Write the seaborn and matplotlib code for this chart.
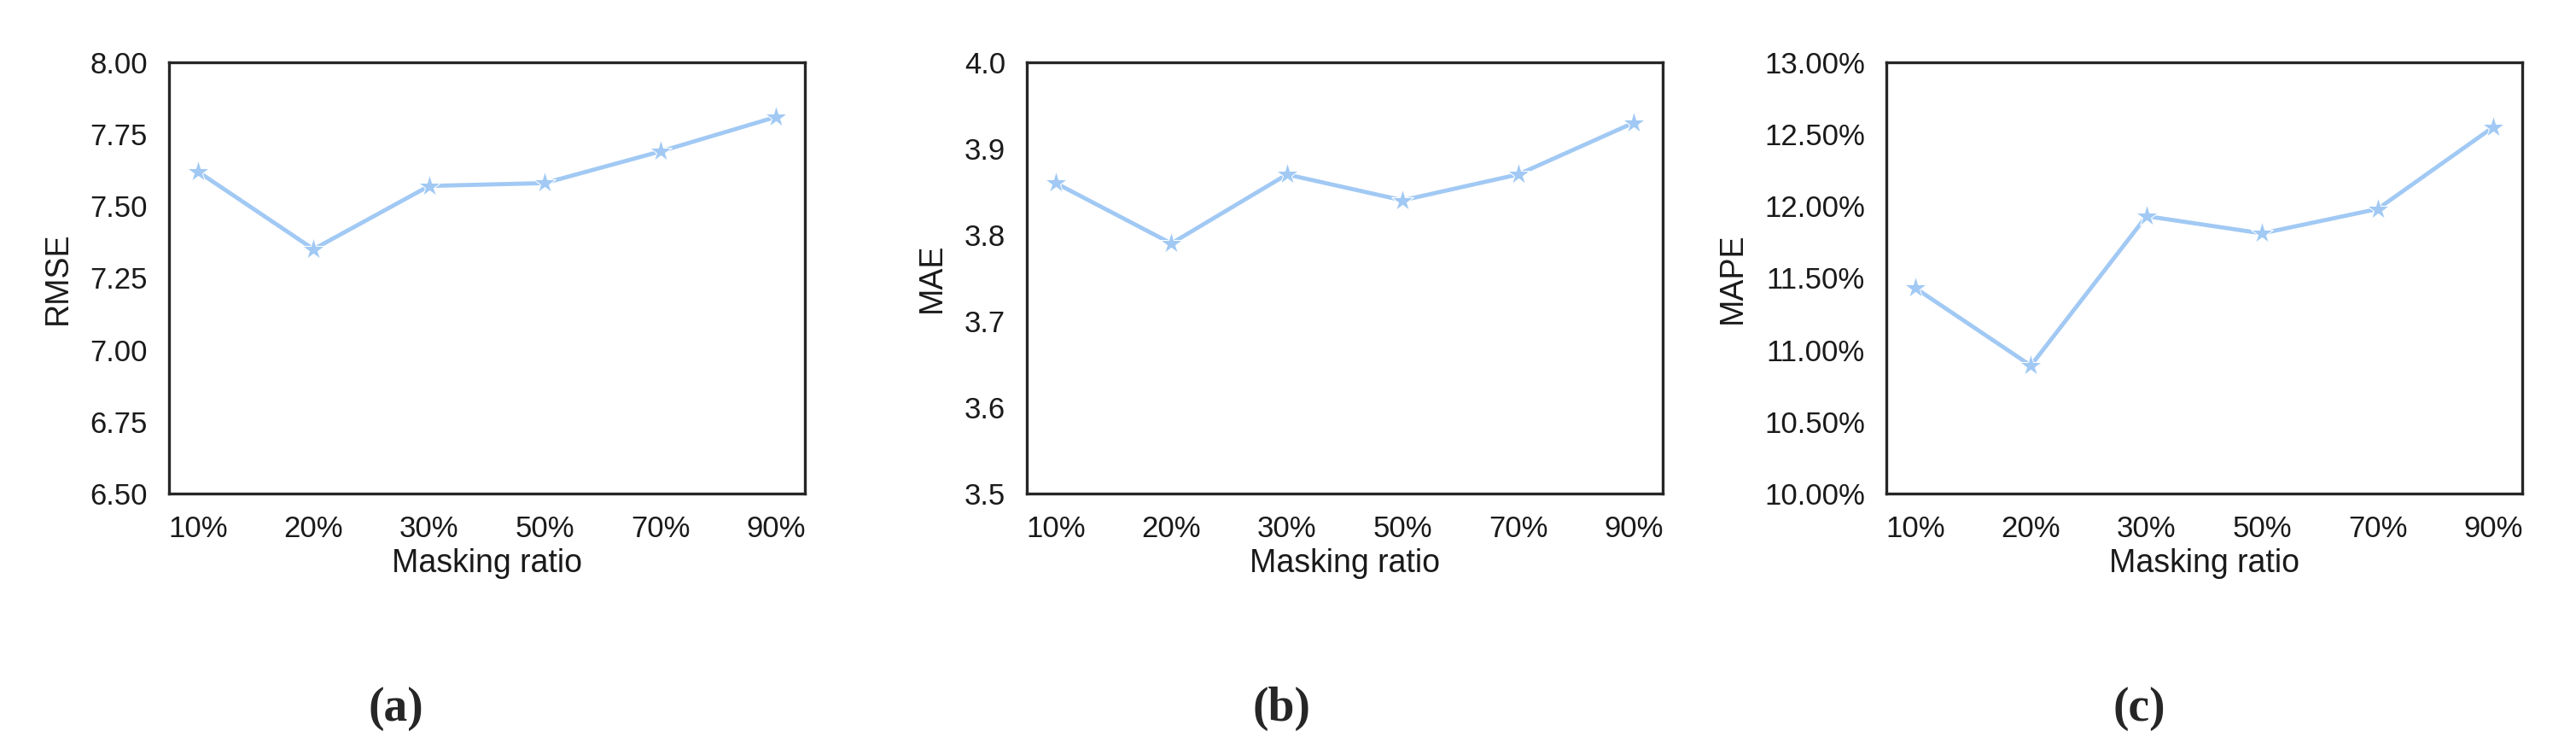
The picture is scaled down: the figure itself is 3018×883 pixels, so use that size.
import matplotlib
matplotlib.use("Agg")
import matplotlib.pyplot as plt
import seaborn as sns
import pandas as pd
from matplotlib.ticker import FuncFormatter

ratios = ["10%", "20%", "30%", "50%", "70%", "90%"]
rmse = [7.62, 7.35, 7.57, 7.58, 7.69, 7.81]
mae = [3.86, 3.79, 3.87, 3.84, 3.87, 3.93]
mape = [11.43, 10.89, 11.93, 11.81, 11.98, 12.55]

sns.set_theme(style="white")
plt.rcParams["font.family"] = ["Liberation Sans", "DejaVu Sans"]

fig = plt.figure(figsize=(30.18, 8.83), dpi=100)
W, H = 3018, 883
lefts = [198, 1203, 2210]
width = 745
bottom, top = 578, 73
color = sns.color_palette("pastel")[0]

panels = [
    ("RMSE", rmse, (6.5, 8.0), [6.5, 6.75, 7.0, 7.25, 7.5, 7.75, 8.0], "{:.2f}", "(a)", 464),
    ("MAE", mae, (3.5, 4.0), [3.5, 3.6, 3.7, 3.8, 3.9, 4.0], "{:.1f}", "(b)", 1501),
    ("MAPE", mape, (10.0, 13.0), [10, 10.5, 11, 11.5, 12, 12.5, 13], "{:.2f}%", "(c)", 2506),
]

for left, (name, vals, ylim, ticks, fmt, tag, tx) in zip(lefts, panels):
    ax = fig.add_axes([left / W, 1 - bottom / H, width / W, (bottom - top) / H])
    df = pd.DataFrame({"Masking ratio": ratios, name: vals})
    sns.lineplot(data=df, x="Masking ratio", y=name, ax=ax, color=color,
                 marker="*", markersize=20, linewidth=3.5, sort=False)
    ax.set_ylim(*ylim)
    ax.set_yticks(ticks)
    ax.yaxis.set_major_formatter(FuncFormatter(lambda v, p, f=fmt: f.format(v)))
    ax.set_xlim(-0.25, 5.25)
    ax.tick_params(labelsize=25, pad=12, labelcolor="#1a1a1a")
    ax.set_xlabel("Masking ratio", fontsize=27, color="#1a1a1a")
    ax.set_ylabel(name, fontsize=27, labelpad=14, color="#1a1a1a")
    for s in ax.spines.values():
        s.set_color("#262626")
        s.set_linewidth(2.4)
    fig.text(tx / W, 1 - 830 / H, tag, ha="center", va="center",
             fontsize=40, family="Liberation Serif", fontweight="bold")

fig.savefig("out.png", dpi=100)
